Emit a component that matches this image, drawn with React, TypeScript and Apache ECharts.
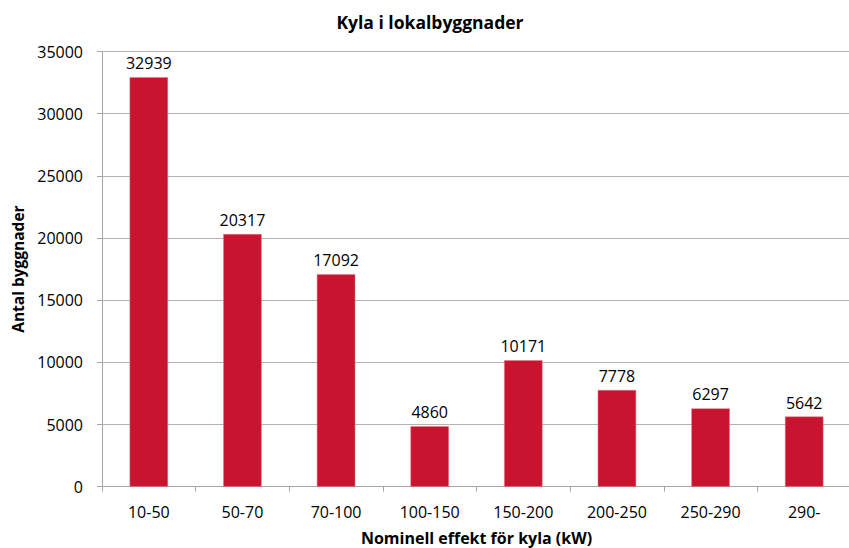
import React, { useEffect, useRef } from "react";
import * as echarts from "echarts";

const categories = ["10-50", "50-70", "70-100", "100-150", "150-200", "200-250", "250-290", "290-"];
const values = [32939, 20317, 17092, 4860, 10171, 7778, 6297, 5642];
const titleText = "Kyla i lokalbyggnader";
const xName = "Nominell effekt för kyla (kW)";
const yName = "Antal byggnader";

const FONT = "'Open Sans', 'Noto Sans', sans-serif";

export default function App() {
  const ref = useRef<HTMLDivElement>(null);
  useEffect(() => {
    if (!ref.current) return;
    const chart = echarts.init(ref.current, undefined, { renderer: "svg" });
    chart.setOption({
      animation: false,
      backgroundColor: "#ffffff",
      textStyle: { fontFamily: FONT },
      title: {
        text: titleText,
        left: 425,
        top: 8,
        textAlign: "center",
        textStyle: { fontFamily: FONT, fontSize: 17.5, fontWeight: "bold", color: "#000000" },
      },
      grid: {
        left: 102,
        right: -2,
        top: 51.5,
        bottom: 61.3,
        containLabel: false,
        outerBoundsMode: "none",
      },
      xAxis: {
        type: "category",
        data: categories,
        name: xName,
        nameLocation: "middle",
        nameGap: 43,
        nameTextStyle: { fontFamily: FONT, fontSize: 16, fontWeight: "bold", color: "#000000" },
        axisLine: { show: true, lineStyle: { color: "#a6a6a6", width: 1 } },
        axisTick: { show: true, length: 5, lineStyle: { color: "#a6a6a6" } },
        axisLabel: { fontFamily: FONT, fontSize: 16, color: "#000000", margin: 17 },
      },
      yAxis: {
        type: "value",
        min: 0,
        max: 35000,
        interval: 5000,
        name: yName,
        nameLocation: "middle",
        nameGap: 69,
        nameRotate: 90,
        nameTextStyle: { fontFamily: FONT, fontSize: 15.5, fontWeight: "bold", color: "#000000" },
        axisLine: { show: true, lineStyle: { color: "#a6a6a6", width: 1 } },
        axisTick: { show: true, length: 5, lineStyle: { color: "#a6a6a6" } },
        axisLabel: {
          fontFamily: FONT,
          fontSize: 16,
          color: "#000000",
          margin: 19,
          formatter: (v: number) => String(v),
        },
        splitLine: { show: true, lineStyle: { color: "#b3b3b3", width: 1 } },
      },
      series: [
        {
          type: "bar",
          data: values,
          barWidth: "41%",
          itemStyle: { color: "#c8142f", borderColor: "#e07a88", borderWidth: 0.5 },
          label: {
            show: true,
            position: "top",
            distance: 6,
            fontFamily: FONT,
            fontSize: 16,
            color: "#000000",
          },
        },
      ],
    });
    return () => chart.dispose();
  }, []);
  return (
    <div
      ref={ref}
      style={{ position: "fixed", left: 0, top: 0, width: 849, height: 548 }}
    />
  );
}
